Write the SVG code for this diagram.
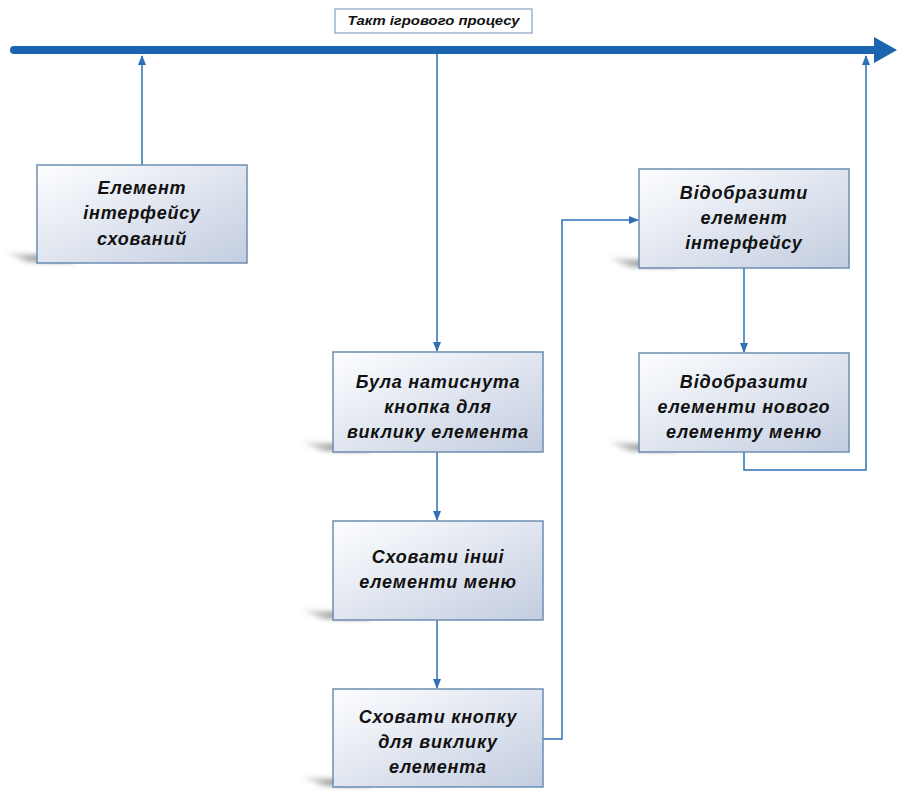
<svg xmlns="http://www.w3.org/2000/svg" width="897" height="791" viewBox="0 0 897 791">
<defs>
<linearGradient id="g" x1="0" y1="0" x2="1" y2="1">
<stop offset="0" stop-color="#fdfeff"/>
<stop offset="1" stop-color="#c3cde0"/>
</linearGradient>
<linearGradient id="sg" x1="0" y1="0" x2="1" y2="0">
<stop offset="0" stop-color="#9a9a9a" stop-opacity="0.2"/>
<stop offset="0.6" stop-color="#6a6a6a" stop-opacity="0.9"/>
<stop offset="1" stop-color="#6a6a6a" stop-opacity="0.9"/>
</linearGradient>
<filter id="blur" x="-50%" y="-100%" width="200%" height="300%"><feGaussianBlur stdDeviation="2.5"/></filter>
<marker id="ah" markerWidth="10" markerHeight="10" refX="9" refY="5" orient="auto" markerUnits="userSpaceOnUse">
<path d="M0,1 L10,5 L0,9 Z" fill="#2f70b6"/>
</marker>
<g id="shadow"><path d="M-32,-10 L20,-7 L40,-1 L-10,-1 Z" fill="url(#sg)" filter="url(#blur)"/></g>
</defs>
<style>
.box{fill:url(#g);stroke:#6c8db3;stroke-width:1.5}
.t{font-family:"Liberation Sans",Arial,sans-serif;font-size:18px;font-weight:bold;font-style:italic;fill:#111;text-anchor:middle;letter-spacing:0.8px}
.c{fill:none;stroke:#2f70b6;stroke-width:1.5}
</style>
<g id="timeline">
<rect x="10" y="46" width="868" height="8" rx="4" fill="#1a64b0"/>
<path d="M874,37 L897,50 L874,63 Z" fill="#1a64b0"/>
</g>
<g id="label">
<rect x="335" y="9" width="197" height="24" fill="#fff" stroke="#6c8db3" stroke-width="1"/>
<text x="433.5" y="25" style="font-family:'Liberation Sans Narrow','Liberation Sans',Arial,sans-serif;font-size:12px;font-weight:bold;font-style:italic;fill:#111;text-anchor:middle" textLength="172" lengthAdjust="spacingAndGlyphs">Такт ігрового процесу</text>
</g>
<g id="connectors">
<path class="c" d="M142,165 L142,56" marker-end="url(#ah)"/>
<path class="c" d="M437,54 L437,351" marker-end="url(#ah)"/>
<path class="c" d="M437,452 L437,520" marker-end="url(#ah)"/>
<path class="c" d="M437,620 L437,688" marker-end="url(#ah)"/>
<path class="c" d="M543,739 L562,739 L562,220 L638,220" marker-end="url(#ah)"/>
<path class="c" d="M744,268 L744,352" marker-end="url(#ah)"/>
<path class="c" d="M744,452 L744,470 L866,470 L866,56" marker-end="url(#ah)"/>
</g>
<g id="n1">
<use href="#shadow" transform="translate(37,263)"/>
<rect class="box" x="37" y="165" width="210" height="98"/>
<text class="t" x="142" y="194">Елемент</text>
<text class="t" x="142" y="219">інтерфейсу</text>
<text class="t" x="142" y="245">схований</text>
</g>
<g id="n2">
<use href="#shadow" transform="translate(333,452)"/>
<rect class="box" x="333" y="352" width="210" height="100"/>
<text class="t" x="438" y="388">Була натиснута</text>
<text class="t" x="438" y="413">кнопка для</text>
<text class="t" x="438" y="438">виклику елемента</text>
</g>
<g id="n3">
<use href="#shadow" transform="translate(333,620)"/>
<rect class="box" x="333" y="521" width="210" height="99"/>
<text class="t" x="438" y="563">Сховати інші</text>
<text class="t" x="438" y="588">елементи меню</text>
</g>
<g id="n4">
<use href="#shadow" transform="translate(333,787)"/>
<rect class="box" x="333" y="689" width="210" height="98"/>
<text class="t" x="438" y="723">Сховати кнопку</text>
<text class="t" x="438" y="748">для виклику</text>
<text class="t" x="438" y="773">елемента</text>
</g>
<g id="n5">
<use href="#shadow" transform="translate(639,268)"/>
<rect class="box" x="639" y="169" width="210" height="99"/>
<text class="t" x="744" y="199">Відобразити</text>
<text class="t" x="744" y="224">елемент</text>
<text class="t" x="744" y="249">інтерфейсу</text>
</g>
<g id="n6">
<use href="#shadow" transform="translate(639,452)"/>
<rect class="box" x="639" y="353" width="210" height="99"/>
<text class="t" x="744" y="388">Відобразити</text>
<text class="t" x="744" y="413">елементи нового</text>
<text class="t" x="744" y="438">елементу меню</text>
</g>
</svg>
